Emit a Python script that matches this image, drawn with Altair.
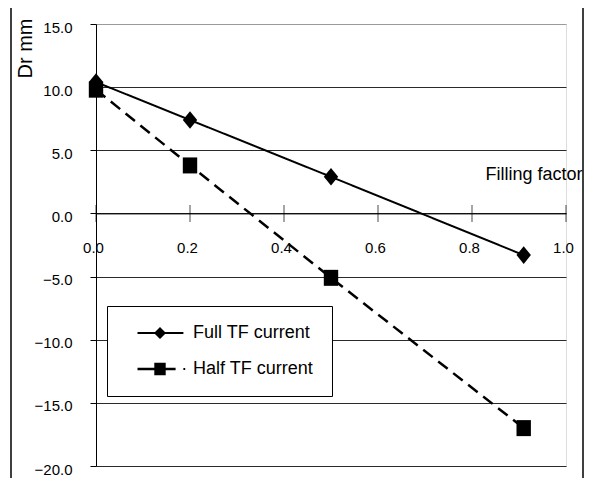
import altair as alt
import pandas as pd

# ---- data ----
filling = [0.0, 0.2, 0.5, 0.91]
full_tf = [10.4, 7.4, 2.9, -3.3]
half_tf = [9.8, 3.8, -5.1, -17.0]
series_names = ["Full TF current", "Half TF current"]
x_ticks = [0.0, 0.2, 0.4, 0.6, 0.8, 1.0]
y_ticks = [-20, -15, -10, -5, 0, 5, 10, 15]

rows = []
for name, vals in zip(series_names, [full_tf, half_tf]):
    for xv, yv in zip(filling, vals):
        rows.append({"x": xv, "y": yv, "series": name, "label": name})
df = pd.DataFrame(rows)
tick_df = pd.DataFrame({"x": x_ticks, "y": [0] * len(x_ticks)})
frame_df = pd.DataFrame({"a": [0]})

FONT = "Liberation Sans"

xs = alt.Scale(domain=[0, 1], nice=False, zero=False)
ys = alt.Scale(domain=[-20, 15], nice=False, zero=False)

diamond = "M0,-1.1L0.9,0L0,1.1L-0.9,0Z"
square = "M-0.9,-1H0.9V1H-0.9Z"

leg_full = "M-3.75,-0.17H3.9V0.17H-3.75Z M0,-1L1,0L0,1L-1,0Z"
leg_half = ("M-3.75,-0.22H-0.9V0.22H-3.75Z M-0.95,-1.05H0.95V1.05H-0.95Z "
            "M0.9,-0.22H2.6V0.22H0.9Z M3.9,-0.17H4.2V0.17H3.9Z")

x_axis = alt.Axis(
    values=x_ticks, format=".1f", grid=False, ticks=False, domainColor="black",
    domainWidth=1, labelPadding=27, labelOffset=-3, labelFlush=False,
    labelOverlap=False, labelFont=FONT, labelFontSize=15, labelColor="black",
    offset=-252.6, title="Filling factor", titleX=486, titleY=-34,
    titleAlign="right", titleBaseline="alphabetic", titleFont=FONT,
    titleFontSize=18, titleFontWeight="normal", titleColor="black",
)
y_axis = alt.Axis(
    values=y_ticks, format=".1f",
    labelExpr="datum.value < 0 ? datum.label + '\u00a0' : datum.label",
    grid=True,
    gridColor={"condition": {"test": "datum.value >= 15", "value": "#9a9a9a"},
               "value": "#2a2a2a"},
    gridWidth=1, domainColor="black", tickColor="black", tickSize=6,
    labelPadding=18, labelOffset=3, labelFont=FONT, labelFontSize=15,
    labelColor="black",
    title="Dr mm", titleAngle=270, titleAlign="right", titleBaseline="middle",
    titleX=-71, titleY=-6, titleFont=FONT, titleFontSize=20,
    titleFontWeight="normal", titleColor="black",
)

frame = alt.Chart(frame_df).mark_rect(
    fill=None, stroke="black", strokeWidth=1.5
).encode(
    x=alt.value(-85), x2=alt.value(487), y=alt.value(-17), y2=alt.value(480)
)

lines = alt.Chart(df).mark_line(color="black").encode(
    x=alt.X("x:Q", scale=xs, axis=x_axis),
    y=alt.Y("y:Q", scale=ys, axis=y_axis),
    detail="series:N",
    strokeDash=alt.StrokeDash(
        "series:N",
        scale=alt.Scale(domain=series_names, range=[[1, 0], [12, 7]]),
        legend=None,
    ),
    strokeWidth=alt.StrokeWidth(
        "series:N", scale=alt.Scale(domain=series_names, range=[2, 2.5]), legend=None
    ),
)

points = alt.Chart(df).mark_point(
    filled=True, color="black", size=256, opacity=1
).encode(
    x=alt.X("x:Q", scale=xs),
    y=alt.Y("y:Q", scale=ys),
    shape=alt.Shape(
        "series:N",
        scale=alt.Scale(domain=series_names, range=[diamond, square]),
        legend=None,
    ),
)

xticks = alt.Chart(tick_df).mark_tick(
    orient="vertical", size=17, thickness=1, color="black"
).encode(x=alt.X("x:Q", scale=xs), y=alt.Y("y:Q", scale=ys))

legend_layer = alt.Chart(df).mark_point(
    filled=True, color="black", size=0
).encode(
    x=alt.X("x:Q", scale=xs),
    y=alt.Y("y:Q", scale=ys),
    shape=alt.Shape(
        "label:N",
        scale=alt.Scale(domain=series_names, range=[leg_full, leg_half]),
        legend=alt.Legend(
            orient="none", legendX=11, legendY=282, title=None,
            strokeColor="black", fillColor="white", padding=18,
            symbolOffset=26, labelOffset=24, symbolSize=144,
            symbolFillColor="black", symbolStrokeColor="black",
            symbolStrokeWidth=0, symbolOpacity=1, rowPadding=18,
            labelExpr="datum.label + '\u00a0\u00a0'",
            labelFont=FONT, labelFontSize=18, labelColor="black",
        ),
    ),
)

chart = alt.layer(frame, lines, xticks, points, legend_layer).resolve_scale(
    shape="independent"
).properties(
    width=470, height=442,
    autosize=alt.AutoSizeParams(type="none"),
    padding={"left": 88, "top": 16, "right": 18, "bottom": 12},
).configure_view(stroke="#b4b4b4", strokeWidth=1.5).configure(background="white")

chart.save("out.html", embed_options={"renderer": "svg", "actions": False})
